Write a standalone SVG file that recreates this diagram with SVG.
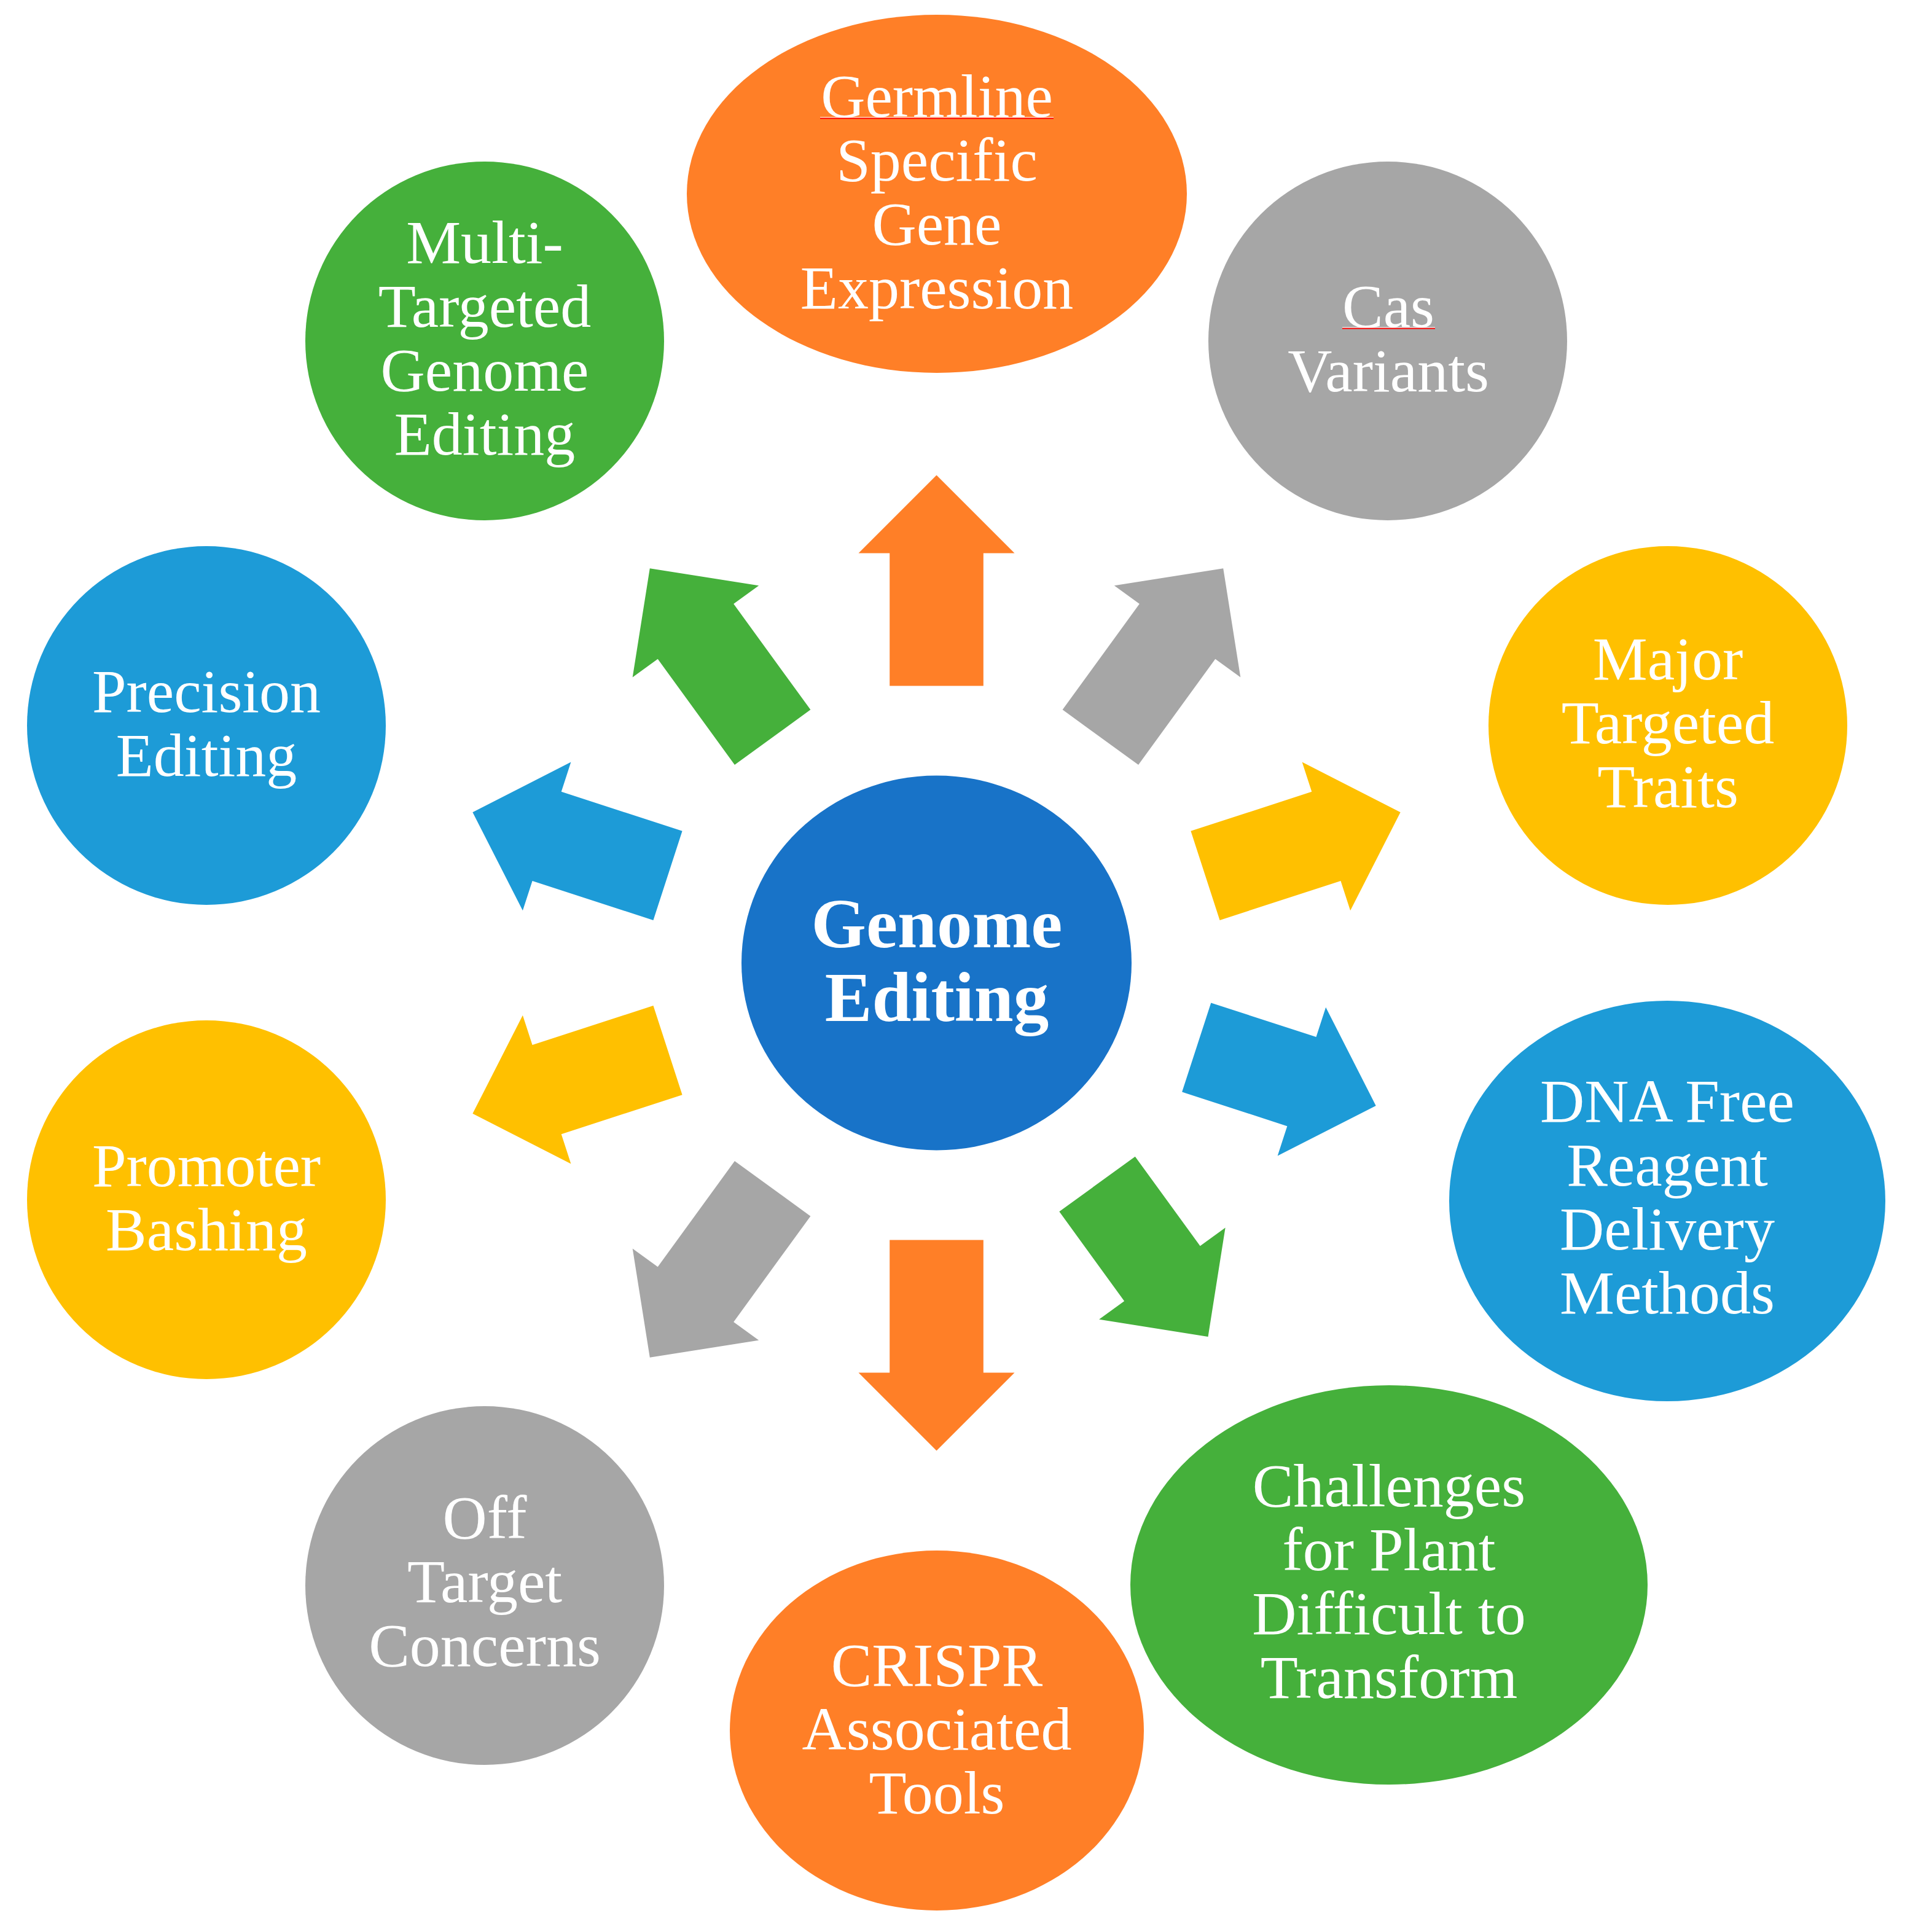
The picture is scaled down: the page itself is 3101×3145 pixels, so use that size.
<svg xmlns="http://www.w3.org/2000/svg" xmlns:xlink="http://www.w3.org/1999/xlink" width="3101" height="3145" viewBox="0 0 3101 3145">
<style>
.t{font-family:"Liberation Serif","Times New Roman",serif;font-size:100px;fill:#FFFFFF;text-anchor:middle}
.c{font-family:"Liberation Serif","Times New Roman",serif;font-size:115px;font-weight:bold;fill:#FFFFFF;text-anchor:middle}
.orange{fill:#FF7F27}
.gray{fill:#A6A6A6}
.yellow{fill:#FFC000}
.blue{fill:#1D9BD7}
.green{fill:#45B03B}
.dark{fill:#1873C8}
</style>
<defs>
<polygon id="arrowL" points="1448.2,1116.5 1448.2,900.5 1397.5,900.5 1524.5,773.5 1651.5,900.5 1600.8,900.5 1600.8,1116.5"/>
<polygon id="arrowD" points="1448.2,1113.5 1448.2,900.5 1397.5,900.5 1524.5,773.5 1651.5,900.5 1600.8,900.5 1600.8,1113.5"/>
<polygon id="arrowM" points="1448.2,1107.5 1448.2,900.5 1397.5,900.5 1524.5,773.5 1651.5,900.5 1600.8,900.5 1600.8,1107.5"/>
<polygon id="arrowS" points="1448.2,1122.5 1448.2,942.5 1397.5,942.5 1524.5,815.5 1651.5,942.5 1600.8,942.5 1600.8,1122.5"/>
</defs>
<rect x="0" y="0" width="3101" height="3145" fill="#FFFFFF"/>
<g id="connectors">
<use xlink:href="#arrowL" href="#arrowL" class="orange"/>
<use xlink:href="#arrowD" href="#arrowD" class="gray" transform="rotate(36 1524.5 1567.5)"/>
<use xlink:href="#arrowM" href="#arrowM" class="yellow" transform="rotate(72 1524.5 1567.5)"/>
<use xlink:href="#arrowS" href="#arrowS" class="blue" transform="rotate(108 1524.5 1567.5)"/>
<use xlink:href="#arrowS" href="#arrowS" class="green" transform="rotate(144 1524.5 1567.5)"/>
<use xlink:href="#arrowL" href="#arrowL" class="orange" transform="rotate(180 1524.5 1567.5)"/>
<use xlink:href="#arrowD" href="#arrowD" class="gray" transform="rotate(216 1524.5 1567.5)"/>
<use xlink:href="#arrowM" href="#arrowM" class="yellow" transform="rotate(252 1524.5 1567.5)"/>
<use xlink:href="#arrowM" href="#arrowM" class="blue" transform="rotate(288 1524.5 1567.5)"/>
<use xlink:href="#arrowD" href="#arrowD" class="green" transform="rotate(324 1524.5 1567.5)"/>
</g>
<g id="genome-editing">
<ellipse cx="1524.5" cy="1567.5" rx="317.5" ry="305" class="dark"/>
<text class="c" x="1525" y="1541.5">Genome</text>
<text class="c" x="1525" y="1662">Editing</text>
</g>
<g id="germline">
<ellipse cx="1525" cy="315.5" rx="407" ry="291.5" class="orange"/>
<text class="t" x="1525" y="190">Germline</text>
<rect x="1335" y="190.5" width="380" height="1.2" fill="#FFFFFF"/>
<rect x="1335" y="191.8" width="380" height="1.8" fill="#FF0000"/>
<text class="t" x="1525" y="294">Specific</text>
<text class="t" x="1525" y="398">Gene</text>
<text class="t" x="1525" y="502">Expression</text>
</g>
<g id="cas-variants">
<circle cx="2259" cy="555" r="292" class="gray"/>
<text class="t" x="2260" y="532">Cas</text>
<rect x="2185" y="532.5" width="151" height="1.2" fill="#FFFFFF"/>
<rect x="2185" y="533.8" width="151" height="1.8" fill="#FF0000"/>
<text class="t" x="2260" y="637">Variants</text>
</g>
<g id="major-targeted-traits">
<circle cx="2715" cy="1181" r="292" class="yellow"/>
<text class="t" x="2715" y="1106">Major</text>
<text class="t" x="2715" y="1210">Targeted</text>
<text class="t" x="2715" y="1314">Traits</text>
</g>
<g id="dna-free">
<ellipse cx="2714" cy="1955" rx="355" ry="326" class="blue"/>
<text class="t" x="2714" y="1826">DNA Free</text>
<text class="t" x="2714" y="1930">Reagent</text>
<text class="t" x="2714" y="2034">Delivery</text>
<text class="t" x="2714" y="2138">Methods</text>
</g>
<g id="challenges">
<ellipse cx="2261" cy="2580" rx="421" ry="325" class="green"/>
<text class="t" x="2261" y="2452">Challenges</text>
<text class="t" x="2261" y="2556">for Plant</text>
<text class="t" x="2261" y="2660">Difficult to</text>
<text class="t" x="2261" y="2764">Transform</text>
</g>
<g id="crispr-tools">
<ellipse cx="1525" cy="2817" rx="337" ry="293" class="orange"/>
<text class="t" x="1525" y="2744">CRISPR</text>
<text class="t" x="1525" y="2848">Associated</text>
<text class="t" x="1525" y="2952">Tools</text>
</g>
<g id="off-target">
<circle cx="789" cy="2581" r="292" class="gray"/>
<text class="t" x="789" y="2504">Off</text>
<text class="t" x="789" y="2608">Target</text>
<text class="t" x="789" y="2712">Concerns</text>
</g>
<g id="promoter-bashing">
<circle cx="336" cy="1953" r="292" class="yellow"/>
<text class="t" x="336" y="1931">Promoter</text>
<text class="t" x="336" y="2035">Bashing</text>
</g>
<g id="precision-editing">
<circle cx="336" cy="1181" r="292" class="blue"/>
<text class="t" x="336" y="1159">Precision</text>
<text class="t" x="336" y="1263">Editing</text>
</g>
<g id="multi-targeted">
<circle cx="789" cy="555" r="292" class="green"/>
<text class="t" x="789" y="428">Multi-</text>
<text class="t" x="789" y="532">Targeted</text>
<text class="t" x="789" y="636">Genome</text>
<text class="t" x="789" y="740">Editing</text>
</g>
</svg>
